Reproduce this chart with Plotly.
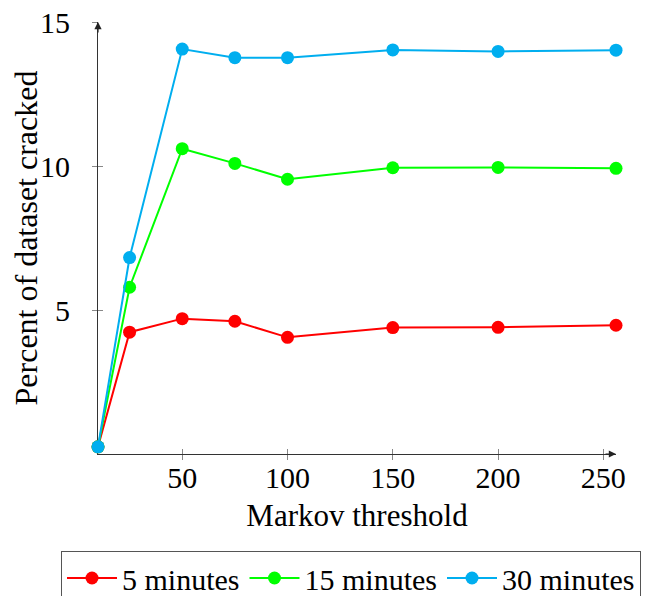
import plotly.graph_objects as go

thresholds = [10, 25, 50, 75, 100, 150, 200, 256]
five_min = [0.25, 4.23, 4.70, 4.61, 4.05, 4.39, 4.40, 4.47]
fifteen_min = [0.25, 5.79, 10.60, 10.09, 9.54, 9.94, 9.95, 9.92]
thirty_min = [0.25, 6.82, 14.06, 13.76, 13.76, 14.03, 13.98, 14.02]

series_names = ["5 minutes", "15 minutes", "30 minutes"]
series_colors = ["#ff0000", "#00ff00", "#00aeef"]
series_values = [five_min, fifteen_min, thirty_min]

x_ticks = [50, 100, 150, 200, 250]
y_ticks = [5, 10, 15]

FONT = "Liberation Serif, Times New Roman, serif"
FS = 30
TFS = 31

# page body has an 8px default margin; figure is sized to fill the rest
W, H = 641, 588
ML, MR, MT, MB = 90, 33, 14, 142
PW, PH = W - ML - MR, H - MT - MB

fig = go.Figure()
for name, color, vals in zip(series_names, series_colors, series_values):
    fig.add_trace(go.Scatter(
        x=thresholds, y=vals, name=name, mode="lines+markers",
        line=dict(color=color, width=2),
        marker=dict(color=color, size=13),
        cliponaxis=False,
    ))

axis_common = dict(
    showgrid=False, zeroline=False, showline=True, linecolor="#333333", linewidth=1.2,
    ticks="outside", ticklen=5, tickcolor="#888888", tickwidth=1,
    tickfont=dict(family=FONT, size=FS, color="black"),
    ticklabeloverflow="allow",
    layer="below traces",
)

fig.update_layout(
    width=W, height=H,
    margin=dict(l=ML, r=MR, t=MT, b=MB, autoexpand=False),
    paper_bgcolor="white", plot_bgcolor="white",
    font=dict(family=FONT, size=FS, color="black"),
    xaxis=dict(range=[10, 256], tickvals=x_ticks, ticktext=[str(v) for v in x_ticks],
               title=dict(text="Markov threshold", font=dict(family=FONT, size=TFS), standoff=11),
               ticklabelstandoff=-8,
               **axis_common),
    yaxis=dict(range=[0, 15], tickvals=y_ticks, ticktext=[str(v) for v in y_ticks],
               title=dict(text="Percent of dataset cracked", font=dict(family=FONT, size=32), standoff=10),
               ticklabelstandoff=16,
               **axis_common),
    xaxis2=dict(overlaying="x", matches="x", range=[10, 256], tickvals=x_ticks, showticklabels=False,
                ticks="inside", ticklen=5, tickcolor="#888888", showgrid=False, zeroline=False,
                showline=False, side="bottom", anchor="y"),
    yaxis2=dict(overlaying="y", matches="y", range=[0, 15], tickvals=y_ticks, showticklabels=False,
                ticks="inside", ticklen=5, tickcolor="#888888", showgrid=False, zeroline=False,
                showline=False, side="left", anchor="x"),
    showlegend=True,
    legend=dict(orientation="h", x=(53 - ML) / PW, y=-(543 - (MT + PH)) / PH,
                xref="paper", yref="paper", xanchor="left", yanchor="top",
                bordercolor="#555555", borderwidth=1, bgcolor="white",
                font=dict(family=FONT, size=FS, color="black"), itemwidth=50, tracegroupgap=0),
)

# invisible trace to activate tick-mirror axes
fig.add_trace(go.Scatter(x=[thresholds[0]], y=[0], xaxis="x2", yaxis="y2",
                         mode="markers", marker=dict(opacity=0), showlegend=False, hoverinfo="skip"))

# axis arrowheads
fig.add_annotation(x=0, y=1, xref="paper", yref="paper", ax=0, ay=12, axref="pixel", ayref="pixel",
                   text="", showarrow=True, arrowhead=2, arrowsize=1.2, arrowwidth=1.2, arrowcolor="#222222")
fig.add_annotation(x=1, y=0, xref="paper", yref="paper", ax=-12, ay=0, axref="pixel", ayref="pixel",
                   text="", showarrow=True, arrowhead=2, arrowsize=1.2, arrowwidth=1.2, arrowcolor="#222222")

fig.write_html("out.html")
